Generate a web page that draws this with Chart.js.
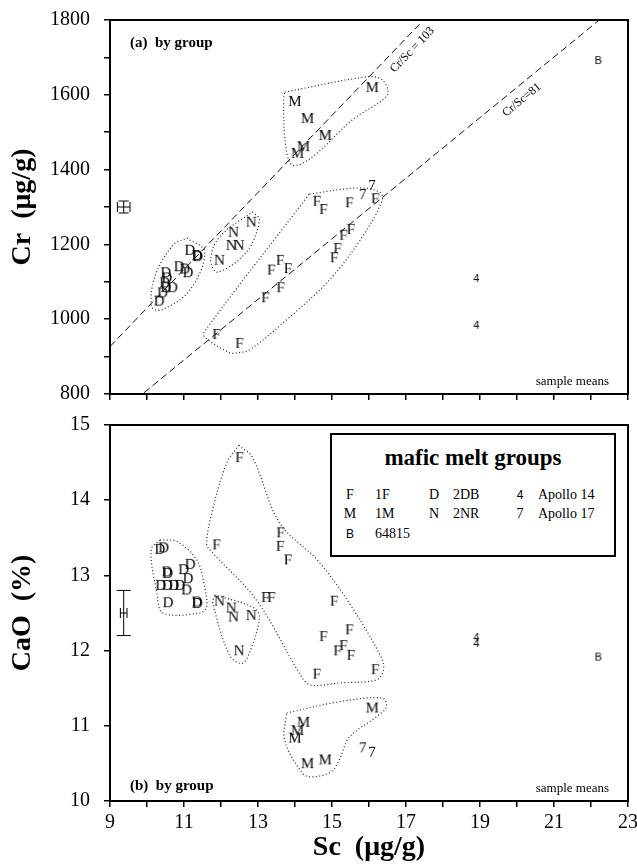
<!DOCTYPE html>
<html>
<head>
<meta charset="utf-8">
<script src="https://cdn.jsdelivr.net/npm/chart.js@4.4.1/dist/chart.umd.min.js"></script>
<style>
  body { margin: 0; background: #fff; width: 637px; height: 865px; position: relative; overflow: hidden; font-family: 'Liberation Serif', serif; }
  canvas { position: absolute; left: 0; }
  #crChart { top: 0; }
  #caoChart { top: 405px; }
  #legend { position: absolute; left: 330px; top: 433px; width: 282px; height: 120px; border: 2px solid #000; background: #fff; color: #000; }
  #legend span { position: absolute; font-size: 14px; line-height: 16px; white-space: nowrap; }
  #legend .ttl { left: 0; width: 282px; text-align: center; top: 9px; font-size: 23px; line-height: 27px; font-weight: bold; }
  #legend .sym { width: 20px; text-align: center; }
</style>
</head>
<body>
<canvas id="crChart" width="637" height="405"></canvas>
<canvas id="caoChart" width="637" height="460"></canvas>
<div id="legend"></div>
<script>
// sample means: Sc (ug/g), Cr (ug/g), CaO (%)
const scF  = [11.88, 12.50, 13.20, 13.36, 13.60, 13.61, 13.81, 14.59, 14.77, 15.06, 15.15, 15.31, 15.47, 15.51, 16.17];
const crF  = [958, 934, 1056, 1130, 1156, 1083, 1134, 1314, 1292, 1163, 1188, 1223, 1310, 1239, 1321];
const caoF = [13.40, 14.56, 12.70, 12.70, 13.38, 13.56, 13.20, 11.68, 12.18, 12.65, 11.99, 12.06, 12.27, 11.93, 11.74];

const scM  = [14.00, 14.07, 14.23, 14.34, 14.82, 16.09];
const crM  = [1581, 1442, 1460, 1535, 1490, 1618];
const caoM = [10.83, 10.93, 11.04, 10.49, 10.54, 11.23];

const scN  = [11.96, 12.28, 12.34, 12.49, 12.82];
const crN  = [1156, 1196, 1231, 1196, 1258];
const caoN = [12.65, 12.56, 12.44, 11.99, 12.46];

// D points don't line up one to one between panels, so kept apart
const scDa = [11.16, 11.35, 11.37, 10.87, 11.02, 11.11, 10.51, 10.54, 10.48, 10.69, 10.51, 10.42, 10.33];
const crD  = [1183, 1169, 1166, 1139, 1133, 1123, 1123, 1109, 1096, 1083, 1083, 1069, 1047];
const scDb = [10.35, 10.45, 10.54, 10.56, 10.99, 11.17, 11.11, 10.37, 10.55, 10.73, 10.89, 11.07, 10.57, 11.35, 11.36];
const caoD = [13.34, 13.36, 13.04, 13.02, 13.07, 13.14, 12.95, 12.86, 12.86, 12.86, 12.86, 12.80, 12.63, 12.64, 12.62];

const sc7  = [15.83, 16.08];
const cr7  = [1332, 1356];
const cao7 = [10.70, 10.64];

const sc4  = [18.9, 18.9];
const cr4  = [1110, 985];
const cao4 = [12.18, 12.10];

const scB  = [22.2];
const crB  = [1693];
const caoB = [11.92];

// hand drawn group outlines [Sc, value]
const hullMa = [[13.72, 1607], [15.93, 1648], [16.36, 1640], [16.49, 1599], [15.55, 1533], [14.47, 1434], [13.93, 1412], [13.74, 1471], [13.69, 1586]];
const hullFa = [[14.39, 1335], [15.74, 1351], [16.28, 1340], [16.36, 1319], [15.82, 1220], [14.93, 1105], [13.77, 998], [12.77, 918], [12.42, 910], [12.23, 910], [11.56, 952], [11.56, 968]];
const hullDa = [[11.08, 1217], [11.56, 1180], [11.16, 1078], [10.40, 1025], [10.13, 1033], [10.21, 1113], [10.70, 1198]];
const hullNa = [[12.85, 1287], [13.04, 1265], [12.69, 1180], [11.91, 1126], [11.72, 1158], [11.96, 1220]];

const hullFb = [[12.48, 14.73], [12.85, 14.57], [13.58, 13.70], [14.61, 13.20], [15.47, 12.63], [16.33, 11.91], [16.39, 11.74], [16.20, 11.61], [15.20, 11.57], [14.44, 11.54], [14.18, 11.65], [12.96, 12.67], [11.70, 13.34], [11.61, 13.43], [11.75, 13.83], [12.15, 14.49]];
const hullDb = [[10.35, 13.47], [10.81, 13.45], [11.35, 13.20], [11.56, 12.84], [11.61, 12.58], [11.43, 12.50], [10.43, 12.50], [10.27, 12.76], [10.11, 13.34]];
const hullNb = [[11.83, 12.74], [12.85, 12.58], [13.04, 12.45], [12.77, 11.97], [12.56, 11.83], [12.23, 11.94], [11.78, 12.63]];
const hullMb = [[13.77, 11.17], [15.20, 11.32], [16.36, 11.37], [16.47, 11.25], [16.20, 11.12], [15.47, 10.85], [15.20, 10.55], [14.98, 10.39], [14.47, 10.32], [14.20, 10.37], [13.72, 10.81]];

// Cr/Sc reference lines and where their labels sit
const ratios = [103, 81];
const ratioLabels = ['Cr/Sc = 103', 'Cr/Sc=81'];
const ratioLabelSc = [17.17, 20.13];
const ratioLabelCr = [1720, 1586];

// typical uncertainty bars
const errCr  = { sc: 9.37, val: 1300, dSc: 0.17, dVal: 16 };
const errCaO = { sc: 9.37, val: 12.5, dSc: 0.09, dVal: 0.3 };

const legendRows = [
  ['F', '1F', 'D', '2DB', '4', 'Apollo 14'],
  ['M', '1M', 'N', '2NR', '7', 'Apollo 17'],
  ['B', '64815']
];

const serif = "'Liberation Serif', 'Times New Roman', serif";

function letterPoint(ch, sans) {
  // letters used as plot symbols
  const c = document.createElement('canvas');
  c.width = 20; c.height = 20;
  const g = c.getContext('2d');
  g.fillStyle = '#000';
  g.font = sans ? "11px 'Liberation Sans', sans-serif" : '15px ' + serif;
  g.textAlign = 'center';
  g.textBaseline = 'middle';
  g.fillText(ch, 10, 10.5);
  return c;
}

function pts(xs, ys) {
  return xs.map((x, i) => ({ x: x, y: ys[i] }));
}

function hull(h) {
  const d = h.map(p => ({ x: p[0], y: p[1] }));
  d.push(d[0]);
  return {
    data: d, showLine: true, pointRadius: 0, borderColor: '#222', borderWidth: 1.2,
    borderDash: [1, 2.4], tension: 0.35, fill: false
  };
}

function marks(xs, ys, ch, sans) {
  return { data: pts(xs, ys), pointStyle: letterPoint(ch, sans), pointRadius: 8, showLine: false };
}

const framePlugin = {
  id: 'frame',
  afterDatasetsDraw(chart, args, opts) {
    const { ctx, chartArea: a, scales: { x, y } } = chart;
    ctx.save();
    ctx.strokeStyle = '#000';
    ctx.fillStyle = '#000';
    ctx.lineWidth = 2;
    ctx.strokeRect(a.left, a.top, a.right - a.left, a.bottom - a.top);

    // error bars
    const e = opts.err;
    const cx = x.getPixelForValue(e.sc), cy = y.getPixelForValue(e.val);
    const x0 = x.getPixelForValue(e.sc - e.dSc), x1 = x.getPixelForValue(e.sc + e.dSc);
    const y0 = y.getPixelForValue(e.val - e.dVal), y1 = y.getPixelForValue(e.val + e.dVal);
    ctx.lineWidth = 1;
    ctx.beginPath();
    ctx.moveTo(x0, cy); ctx.lineTo(x1, cy);
    ctx.moveTo(x0, cy - opts.capH); ctx.lineTo(x0, cy + opts.capH);
    ctx.moveTo(x1, cy - opts.capH); ctx.lineTo(x1, cy + opts.capH);
    ctx.moveTo(cx, y0); ctx.lineTo(cx, y1);
    ctx.moveTo(cx - opts.capV, y0); ctx.lineTo(cx + opts.capV, y0);
    ctx.moveTo(cx - opts.capV, y1); ctx.lineTo(cx + opts.capV, y1);
    ctx.stroke();

    // ratio line labels, turned along the lines
    (opts.ratioText || []).forEach((t, i) => {
      const px = x.getPixelForValue(ratioLabelSc[i]), py = y.getPixelForValue(ratioLabelCr[i]);
      const ang = Math.atan2(y.getPixelForValue(ratios[i] * 20) - y.getPixelForValue(ratios[i] * 10),
                             x.getPixelForValue(20) - x.getPixelForValue(10));
      ctx.save();
      ctx.translate(px, py);
      ctx.rotate(ang);
      ctx.font = '12px ' + serif;
      ctx.textAlign = 'center';
      ctx.textBaseline = 'middle';
      ctx.fillText(t, 0, 0);
      ctx.restore();
    });

    ctx.textBaseline = 'middle';
    ctx.font = 'bold 15px ' + serif;
    ctx.textAlign = 'left';
    ctx.fillText(opts.tag, a.left + 20, opts.tagTop ? a.top + 23 : a.bottom - 15);
    ctx.font = '13px ' + serif;
    ctx.textAlign = 'right';
    ctx.fillText('sample means', a.right - 19, a.bottom - 12);
    ctx.restore();
  }
};

function axisX(showLabels) {
  return {
    type: 'linear', min: 9, max: 23,
    border: { color: '#000', width: 2 },
    grid: { drawOnChartArea: false, drawTicks: true, tickLength: 6, color: '#000', lineWidth: 1.5 },
    ticks: {
      stepSize: 1, autoSkip: false, maxRotation: 0, padding: 4, color: '#000',
      font: { family: serif, size: 20 },
      callback: v => (showLabels && v % 2 === 1) ? v : ''
    },
    title: showLabels ? { display: true, text: 'Sc  (\u03bcg/g)', color: '#000', font: { family: serif, size: 28, weight: 'bold' }, padding: { top: 0, bottom: 0 } } : { display: false },
    afterFit: s => { s.height = showLabels ? 64 : 11; s.paddingLeft = 0; s.paddingRight = 0; }
  };
}

function axisY(min, max, step, every, label) {
  return {
    type: 'linear', min: min, max: max,
    border: { color: '#000', width: 2 },
    grid: { drawOnChartArea: false, drawTicks: true, tickLength: 6, color: '#000', lineWidth: 1.5 },
    ticks: {
      stepSize: step, autoSkip: false, padding: 14, color: '#000',
      font: { family: serif, size: 20 },
      callback: v => (Math.round(v / every) * every === v) ? v : ''
    },
    title: { display: true, text: label, color: '#000', font: { family: serif, size: 28, weight: 'bold' }, padding: { top: 6, bottom: 0 } },
    afterFit: s => { s.width = 110; s.paddingTop = 0; s.paddingBottom = 0; }
  };
}

const baseOpts = {
  responsive: false,
  animation: false,
  events: [],
  layout: { padding: { top: 20, right: 7, left: 0, bottom: 0 } }
};

const ratioSets = ratios.map(r => ({
  data: [{ x: 9, y: r * 9 }, { x: 23, y: r * 23 }],
  showLine: true, pointRadius: 0, borderColor: '#111', borderWidth: 1, borderDash: [7, 4]
}));

new Chart(document.getElementById('crChart'), {
  type: 'scatter',
  data: {
    datasets: [
      ...ratioSets,
      hull(hullMa), hull(hullFa), hull(hullDa), hull(hullNa),
      marks(scF, crF, 'F'), marks(scM, crM, 'M'), marks(scN, crN, 'N'), marks(scDa, crD, 'D'),
      marks(sc7, cr7, '7'), marks(sc4, cr4, '4', true), marks(scB, crB, 'B', true)
    ]
  },
  options: {
    ...baseOpts,
    plugins: {
      legend: { display: false }, tooltip: { enabled: false },
      frame: { err: errCr, capH: 5, capV: 5, ratioText: ratioLabels, tag: '(a)  by group', tagTop: true }
    },
    scales: { x: axisX(false), y: axisY(800, 1800, 100, 200, 'Cr  (\u03bcg/g)') }
  },
  plugins: [framePlugin]
});

new Chart(document.getElementById('caoChart'), {
  type: 'scatter',
  data: {
    datasets: [
      hull(hullFb), hull(hullDb), hull(hullNb), hull(hullMb),
      marks(scF, caoF, 'F'), marks(scM, caoM, 'M'), marks(scN, caoN, 'N'), marks(scDb, caoD, 'D'),
      marks(sc7, cao7, '7'), marks(sc4, cao4, '4', true), marks(scB, caoB, 'B', true)
    ]
  },
  options: {
    ...baseOpts,
    plugins: {
      legend: { display: false }, tooltip: { enabled: false },
      frame: { err: errCaO, capH: 5, capV: 7, tag: '(b)  by group', tagTop: false }
    },
    scales: { x: axisX(true), y: axisY(10, 15, 1, 1, 'CaO  (%)') }
  },
  plugins: [framePlugin]
});

// legend box
const lg = document.getElementById('legend');
const t = document.createElement('span');
t.className = 'ttl';
t.textContent = 'mafic melt groups';
lg.appendChild(t);
const colSym = [8, 92, 178], colTxt = [43, 121, 206], rowTop = [52, 71, 91];
legendRows.forEach((row, r) => {
  for (let c = 0; c < row.length / 2; c++) {
    const s = document.createElement('span');
    s.className = 'sym';
    s.style.left = colSym[c] + 'px';
    s.style.top = rowTop[r] + 'px';
    s.textContent = row[c * 2];
    if (row[c * 2] === 'B' || row[c * 2] === '4') s.style.fontFamily = "'Liberation Sans', sans-serif", s.style.fontSize = '12px';
    lg.appendChild(s);
    const l = document.createElement('span');
    l.style.left = colTxt[c] + 'px';
    l.style.top = rowTop[r] + 'px';
    l.textContent = row[c * 2 + 1];
    lg.appendChild(l);
  }
});
</script>
</body>
</html>
